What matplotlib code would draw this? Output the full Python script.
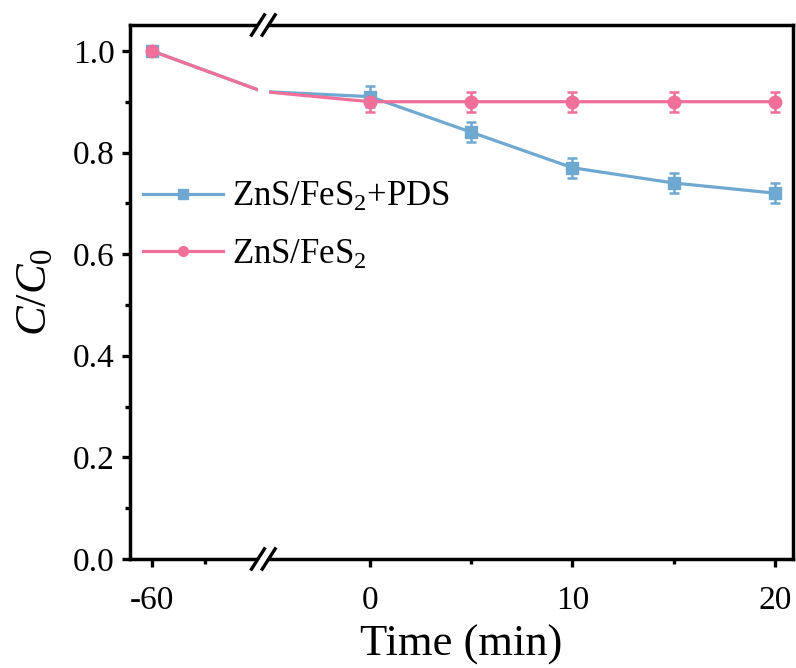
import numpy as np
import matplotlib.pyplot as plt
from matplotlib.patches import Rectangle

plt.rcParams['font.family'] = 'Liberation Serif'
plt.rcParams['mathtext.fontset'] = 'custom'
plt.rcParams['mathtext.rm'] = 'Liberation Serif'
plt.rcParams['mathtext.it'] = 'Liberation Serif:italic'

# Data (time in min, -30 is the hidden dark-phase point behind the axis break)
time = [-60, -30, 0, 5, 10, 15, 20]
pds = [1.0, 0.92, 0.91, 0.84, 0.77, 0.74, 0.72]
pds_err = [0, 0, 0.02, 0.02, 0.02, 0.02, 0.02]
bare = [1.0, 0.92, 0.90, 0.90, 0.90, 0.90, 0.90]
bare_err = [0, 0, 0.02, 0.02, 0.02, 0.02, 0.02]
labels = ['ZnS/FeS$_2$+PDS', 'ZnS/FeS$_2$']
xticks = [-60, 0, 10, 20]
xminor = [-55, 5, 15]

blue = '#6fa8d0'
pink = '#f07099'

# broken x axis: -62..-50 compressed, gap, then -5..21
t_anchor = [-62, -50, -5, 21]
p_anchor = [-11.82, -5.53, -5.0, 21.0]


def to_pos(t):
    return np.interp(t, t_anchor, p_anchor)


fig = plt.figure(figsize=(7.96, 6.68), dpi=100)
ax = fig.add_axes([0.1633, 0.1632, 0.8329, 0.7994])

x = to_pos(time)
show = [0, 2, 3, 4, 5, 6]
for y, err, c, m in [(pds, pds_err, blue, 's'), (bare, bare_err, pink, 'o')]:
    ax.plot(x, y, color=c, lw=2.3, zorder=2)
    ax.errorbar(x[show], np.array(y)[show], yerr=np.array(err)[show], color=c,
                lw=0, elinewidth=1.8, capsize=3.8, capthick=1.8,
                marker=m, markersize=9, zorder=3)

# legend handles with line + smaller marker
h1, = ax.plot([], [], color=blue, lw=2.3, marker='s', markersize=7)
h2, = ax.plot([], [], color=pink, lw=2.3, marker='o', markersize=7)
ax.legend([h1, h2], labels, loc='center left', bbox_to_anchor=(0.02, 0.623),
          borderaxespad=0, borderpad=0, frameon=False, fontsize=25,
          handlelength=2.3, handletextpad=0.25, labelspacing=0.7)

ax.set_xlim(-11.85, 20.89)
ax.set_ylim(0, 1.051)
ax.set_xticks(to_pos(xticks))
ax.set_xticklabels([str(v) for v in xticks])
ax.set_xticks(to_pos(xminor), minor=True)
ax.set_yticks(np.arange(0, 1.01, 0.2))
ax.set_yticklabels(['%.1f' % v for v in np.arange(0, 1.01, 0.2)])
ax.set_yticks(np.arange(0.1, 1.0, 0.2), minor=True)

ax.tick_params(which='both', direction='out', width=2.4, labelsize=24)
ax.tick_params(which='major', length=6)
ax.tick_params(which='minor', length=3.5)
ax.tick_params(axis='x', which='major', pad=13)
ax.tick_params(axis='y', which='major', pad=5)
for s in ax.spines.values():
    s.set_linewidth(2.5)

ax.set_xlabel('Time (min)', fontsize=32, labelpad=6)
ax.set_ylabel(r'$C$/$C_0$', fontsize=32, labelpad=13)

# axis break
b0, b1 = to_pos(-50), to_pos(-5)
tr = ax.get_xaxis_transform()
ax.add_patch(Rectangle((b0, -0.02), b1 - b0, 1.04, transform=tr,
                       facecolor='white', edgecolor='none', clip_on=False, zorder=5))
for bx in (b0, b1):
    for by in (0, 1):
        ax.plot([bx - 0.32, bx + 0.32], [by - 0.019, by + 0.019], transform=tr,
                color='black', lw=2.4, clip_on=False, zorder=6)

fig.savefig('out.png', dpi=100)
